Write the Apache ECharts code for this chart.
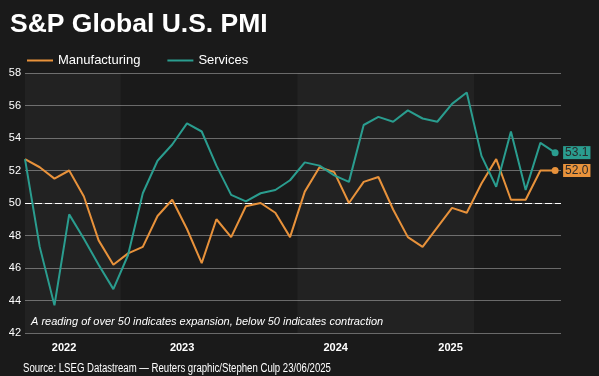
<!DOCTYPE html>
<html>
<head>
<meta charset="utf-8">
<script src="https://cdn.jsdelivr.net/npm/echarts@6/dist/echarts.min.js"></script>
<style>
html,body{margin:0;padding:0;background:#1a1a1a;}
#c{width:599px;height:376px;}
</style>
</head>
<body>
<div id="c"></div>
<script>
// Monthly, June 2022 .. June 2025 (index 0 = Jun 2022)
var months = ['2022-06','2022-07','2022-08','2022-09','2022-10','2022-11','2022-12',
  '2023-01','2023-02','2023-03','2023-04','2023-05','2023-06','2023-07','2023-08','2023-09','2023-10','2023-11','2023-12',
  '2024-01','2024-02','2024-03','2024-04','2024-05','2024-06','2024-07','2024-08','2024-09','2024-10','2024-11','2024-12',
  '2025-01','2025-02','2025-03','2025-04','2025-05','2025-06'];
var manufacturing = [52.7,52.2,51.5,52.0,50.4,47.7,46.2,
  46.9,47.3,49.2,50.2,48.4,46.3,49.0,47.9,49.8,50.0,49.4,47.9,
  50.7,52.2,51.9,50.0,51.3,51.6,49.6,47.9,47.3,48.5,49.7,49.4,
  51.2,52.7,50.2,50.2,52.0,52.0];
var services = [52.7,47.3,43.7,49.3,47.8,46.2,44.7,
  46.8,50.6,52.6,53.6,54.9,54.4,52.3,50.5,50.1,50.6,50.8,51.4,
  52.5,52.3,51.7,51.3,54.8,55.3,55.0,55.7,55.2,55.0,56.1,56.8,
  52.9,51.0,54.4,50.8,53.7,53.1];
// year labels (position on the month-index axis) and year bands
var yearLabels = ['2022','2023','2024','2025'];
var yearLabelPos = [2.65, 10.67, 21.1, 28.9];
var lightBands = [[-0.5, 6.5], [18.5, 30.5]];
var yTicks = {min: 42, max: 58, interval: 2};

var ORANGE = '#e8923b', TEAL = '#2a9d8f';

function toPairs(arr){
  return arr.map(function(v,i){
    if (i === arr.length-1) return {value:[i,v], symbol:'circle', symbolSize:7};
    return [i,v];
  });
}

var chart = echarts.init(document.getElementById('c'));
chart.setOption({
  backgroundColor: '#1a1a1a',
  animation: false,
  textStyle: {fontFamily: 'Liberation Sans, Arial, sans-serif'},
  title: {
    text: 'S&P Global U.S. PMI', left: 5, top: 6,
    textStyle: {color:'#ffffff', fontSize:26.5, fontWeight:'bold', fontFamily:'Liberation Sans, Arial, sans-serif'}
  },
  legend: {
    left: 22, top: 49, icon: 'rect', itemWidth: 26, itemHeight: 2, itemGap: 27,
    textStyle: {color:'#ffffff', fontSize:13},
    data: ['Manufacturing','Services']
  },
  grid: {left: 25, right: 38, top: 73, bottom: 43},
  xAxis: {
    type: 'value', min: 0, max: 36.4,
    axisLine: {show:false}, axisTick: {show:false}, splitLine: {show:false},
    axisLabel: {
      customValues: yearLabelPos, color:'#ffffff', fontSize:11, fontWeight:'bold', margin:9,
      formatter: function(v){ var k = yearLabelPos.indexOf(v); return k>=0 ? yearLabels[k] : ''; }
    }
  },
  yAxis: {
    type: 'value', min: yTicks.min, max: yTicks.max, interval: yTicks.interval,
    axisLine: {show:false}, axisTick: {show:false},
    splitLine: {lineStyle: {color:'#6a6a6a', width:1}},
    axisLabel: {color:'#ffffff', fontSize:11, margin:4}
  },
  graphic: [
    {type:'text', z: 100, left: 31, top: 316, style:{text:'A reading of over 50 indicates expansion, below 50 indicates contraction', fill:'#ffffff', font:'italic 11px Liberation Sans, Arial, sans-serif'}},
    {type:'text', z: 100, x: 23, y: 363, scaleX: 0.8, style:{text:'Source: LSEG Datastream \u2014 Reuters graphic/Stephen Culp 23/06/2025', fill:'#ffffff', font:'12px Liberation Sans, Arial, sans-serif'}}
  ],
  series: [
    {
      name: 'Manufacturing', type: 'line', symbol: 'none', z: 5,
      data: toPairs(manufacturing),
      lineStyle: {color: ORANGE, width: 2}, itemStyle: {color: ORANGE},
      endLabel: {show:true, formatter: function(p){return p.value[1].toFixed(1);}, backgroundColor: ORANGE, color:'#2a2a2a', fontSize:12, padding:[1,2,0,2], distance:8},
      markArea: {silent:true, itemStyle:{color:'rgba(255,255,255,0.035)'}, data: lightBands.map(function(b){return [{xAxis:b[0]},{xAxis:b[1]}];})},
      markLine: {silent:true, symbol:'none', label:{show:false}, lineStyle:{color:'#ffffff', type:[7,3], width:1}, data:[{yAxis:50}]}
    },
    {
      name: 'Services', type: 'line', symbol: 'none', z: 6,
      data: toPairs(services),
      lineStyle: {color: TEAL, width: 2}, itemStyle: {color: TEAL},
      endLabel: {show:true, formatter: function(p){return p.value[1].toFixed(1);}, backgroundColor: TEAL, color:'#2a2a2a', fontSize:12, padding:[1,2,0,2], distance:8}
    }
  ]
});
</script>
</body>
</html>
